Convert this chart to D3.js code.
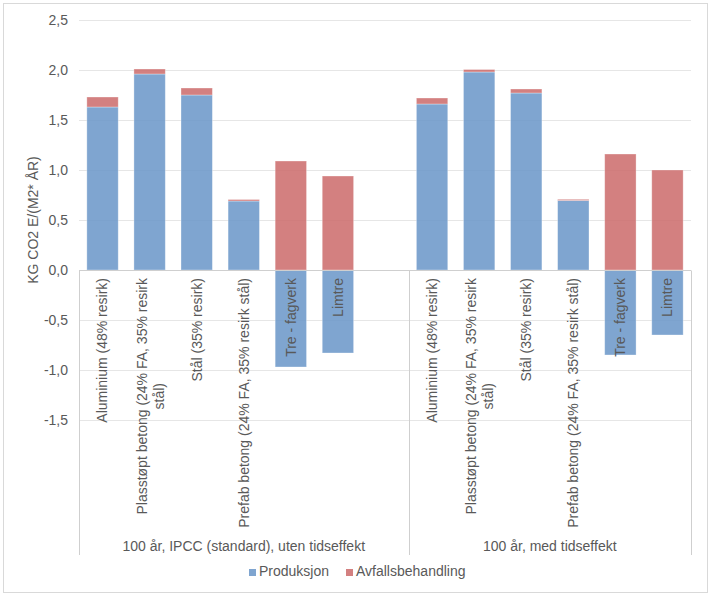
<!DOCTYPE html>
<html>
<head>
<meta charset="utf-8">
<script src="https://cdn.jsdelivr.net/npm/d3@7"></script>
<style>
  html, body { margin: 0; padding: 0; background: #fff; }
  svg { display: block; font-family: "Liberation Sans", Arial, sans-serif; }
</style>
</head>
<body>
<svg id="chart" width="713" height="597"></svg>
<script>
// ---- data ----
const groups = ["100 år, IPCC (standard), uten tidseffekt", "100 år, med tidseffekt"];
const categories = [
  ["Aluminium (48% resirk)"],
  ["Plasstøpt betong (24% FA, 35% resirk", "stål)"],
  ["Stål (35% resirk)"],
  ["Prefab betong (24% FA, 35% resirk stål)"],
  ["Tre - fagverk"],
  ["Limtre"]
];
const seriesNames = ["Produksjon", "Avfallsbehandling"];
const produksjonG1 = [1.63, 1.96, 1.75, 0.69, -0.97, -0.83];
const avfallG1     = [0.10, 0.05, 0.07, 0.015, 1.09, 0.94];
const produksjonG2 = [1.66, 1.98, 1.77, 0.695, -0.85, -0.65];
const avfallG2     = [0.06, 0.025, 0.04, 0.012, 1.16, 1.00];
const yTicks = [2.5, 2.0, 1.5, 1.0, 0.5, 0.0, -0.5, -1.0, -1.5];
const emptySlotsG1 = 1; // blank category at end of first group

(function () {
// ---- layout ----
const svg = d3.select("#chart");
const colors = { "Produksjon": "#6895c8", "Avfallsbehandling": "#cb6a6a" };
const textColor = "#595959";
const pLeft = 79, pRight = 691, pTop = 20, pBottom = 420, axisBottom = 555;

// slots
const slots = [];
categories.forEach((c, i) => slots.push({ g: 0, i, key: "g0-" + i }));
for (let k = 0; k < emptySlotsG1; k++) slots.push({ g: 0, i: null, key: "g0-e" + k });
categories.forEach((c, i) => slots.push({ g: 1, i, key: "g1-" + i }));

const x = d3.scaleBand().domain(slots.map(s => s.key)).range([pLeft, pRight])
  .paddingInner(1 / 3).paddingOuter(1 / 6);
const y = d3.scaleLinear().domain([-1.5, 2.5]).range([pBottom, pTop]);

// outer border
svg.append("rect").attr("x", 3.5).attr("y", 3.5).attr("width", 704).attr("height", 589)
  .attr("fill", "#fff").attr("stroke", "#d9d9d9").attr("stroke-width", 1);

// gridlines
svg.append("g").selectAll("line").data(yTicks).join("line")
  .attr("x1", pLeft).attr("x2", pRight)
  .attr("y1", d => Math.round(y(d)) + 0.5).attr("y2", d => Math.round(y(d)) + 0.5)
  .attr("stroke", "#e6e6e6").attr("stroke-width", 1);

// y tick labels
svg.append("g").selectAll("text").data(yTicks).join("text")
  .attr("x", 68).attr("y", d => y(d)).attr("dy", "0.35em")
  .attr("text-anchor", "end").attr("font-size", 14).attr("fill", textColor)
  .text(d => d.toFixed(1).replace(".", ","));

// y title
svg.append("text")
  .attr("transform", `translate(33,${(pTop + pBottom) / 2}) rotate(-90)`)
  .attr("text-anchor", "middle").attr("dy", "0.35em")
  .attr("font-size", 14).attr("fill", textColor)
  .text("KG CO2 E/(M2* ÅR)");

// stacked bars
const groupData = [
  { prod: produksjonG1, avf: avfallG1 },
  { prod: produksjonG2, avf: avfallG2 }
];
const rects = [];
slots.forEach(s => {
  if (s.i === null) return;
  const gd = groupData[s.g];
  let pos = 0, neg = 0;
  [["Produksjon", gd.prod[s.i]], ["Avfallsbehandling", gd.avf[s.i]]].forEach(([name, v]) => {
    let y0, y1;
    if (v >= 0) { y0 = pos; y1 = pos + v; pos = y1; }
    else { y0 = neg; y1 = neg + v; neg = y1; }
    rects.push({ key: s.key, name, y0, y1 });
  });
});
svg.append("g").selectAll("rect").data(rects).join("rect")
  .attr("x", d => x(d.key))
  .attr("width", x.bandwidth())
  .attr("y", d => y(Math.max(d.y0, d.y1)))
  .attr("height", d => Math.abs(y(d.y0) - y(d.y1)))
  .attr("fill", d => colors[d.name])
  .attr("fill-opacity", 0.85)
  .attr("stroke", "#ffffff").attr("stroke-opacity", 0.4).attr("stroke-width", 0.8);

// category axis lines
const axisG = svg.append("g").attr("stroke", "#cfcfcf").attr("stroke-width", 1);
const y0px = Math.round(y(0)) + 0.5;
axisG.append("line").attr("x1", pLeft).attr("x2", pRight).attr("y1", y0px).attr("y2", y0px);
const g1Start = x(slots.find(s => s.g === 1).key) - (x.step() - x.bandwidth()) / 2;
const dividers = [pLeft, g1Start, pRight];
axisG.selectAll(".div").data(dividers).join("line")
  .attr("x1", d => Math.round(d) + 0.5).attr("x2", d => Math.round(d) + 0.5)
  .attr("y1", y0px).attr("y2", axisBottom);

// category labels
const labelTop = 278;
const lineGap = 17;
slots.forEach(s => {
  if (s.i === null) return;
  const lines = categories[s.i];
  const cx = x(s.key) + x.bandwidth() / 2;
  const g = svg.append("g").attr("transform", `translate(${cx},${labelTop}) rotate(-90)`);
  const texts = lines.map((ln, j) => g.append("text")
    .attr("font-size", 14).attr("fill", textColor)
    .attr("dy", "0.35em")
    .attr("y", (j - (lines.length - 1) / 2) * lineGap + (lines.length > 1 ? 0.5 : 0))
    .text(ln));
  const widths = texts.map(t => t.node().getComputedTextLength());
  const maxW = d3.max(widths);
  texts.forEach(t => t.attr("text-anchor", "middle").attr("x", -maxW / 2));
});

// group labels
groups.forEach((gname, gi) => {
  const x0 = dividers[gi], x1 = dividers[gi + 1];
  svg.append("text").attr("x", (x0 + x1) / 2).attr("y", 551)
    .attr("text-anchor", "middle").attr("font-size", 14).attr("fill", textColor)
    .text(gname);
});

// legend
const legendItems = [{ name: seriesNames[0], x: 249 }, { name: seriesNames[1], x: 346 }];
const lg = svg.append("g");
legendItems.forEach(it => {
  lg.append("rect").attr("x", it.x).attr("y", 569).attr("width", 7).attr("height", 7)
    .attr("fill", colors[it.name]).attr("fill-opacity", 0.85);
  lg.append("text").attr("x", it.x + 10).attr("y", 576)
    .attr("font-size", 14).attr("fill", textColor).text(it.name);
});
})();
</script>
</body>
</html>
